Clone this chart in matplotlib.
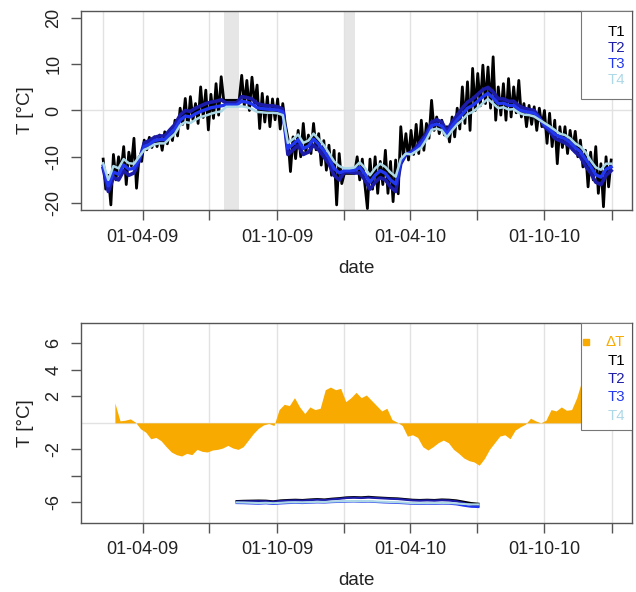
import pandas as pd
import matplotlib
matplotlib.use('Agg')
import matplotlib.pyplot as plt
from matplotlib.patches import Rectangle

plt.rcParams['font.family'] = ['Liberation Sans', 'DejaVu Sans']

# T1 (air), read every half week from 06-02-2009
t1 = [-10.5, -17, -14, -20.4, -9.5, -15, -10, -13, -7.8, -16,
      -9, -12, -6, -16.8, -10, -11, -6.4, -8.5, -5.8, -8.0,
      -5.7, -7.8, -5.3, -8.6, -4.6, -7.2, -4.2, -6.5, -2.1, -5.5,
      0.5, -3.0, 2.6, -3.9, 3.0, -2.0, 1.5, -2.8, 5.1, -1.5,
      4.4, -4.2, 3.5, -1.7, 5.8, -1.0, 7.3, 2.2, 2.2, 2.2,
      2.2, 2.2, 2.2, 2.2, 7.6, 1.0, 6.5, 0.0, 7.2, 1.5,
      5.5, -3.9, 3.7, -2.5, 3.0, -3.5, 2.5, -2.0, 2.5, -4.0,
      1.5, -3.0, -6.0, -13.2, -5.7, -10.4, -4.3, -10.0, -2.8, -9.0,
      -5.3, -9.3, -2.8, -8.5, -5.0, -11.8, -6.5, -12.9, -7.5, -14.0,
      -8.6, -20.4, -9.3, -15.8, -13.6, -13.6, -13.6, -13.6, -13.6, -10.0,
      -15, -10.5, -16, -21.2, -10.5, -17, -10.0, -17.9, -11, -16,
      -8.6, -17.9, -11, -19.7, -10.7, -18, -3.5, -10, -5.0, -10.7,
      -4.3, -9.5, -3.0, -9.3, -2.1, -8.6, -2.8, -6.0, 2.2, -4.3,
      -1.4, -5.0, -2.1, -5.3, -3.5, -6.8, -1.4, -5.7, 0.5, -4.0,
      5.1, -2.8, 6.2, -4.3, 9.1, 0.0, 8.0, 1.0, 9.8, 1.5,
      9.4, 0.5, 11.6, -2.1, 5.1, -1.0, 5.8, -2.1, 6.9, -1.4,
      5.1, -0.5, 6.5, -1.4, 1.5, -3.5, 1.1, -3.0, 0.8, -4.3,
      0.5, -3.5, 0.0, -7.1, -0.6, -7.8, -2.1, -11.5, -3.5, -8.0,
      -3.5, -9.3, -4.3, -8.5, -4.5, -10.0, -6.4, -12.2, -8.6, -16.5,
      -9.0, -15, -7.8, -17.9, -11.5, -20.8, -10.0, -16.5, -10.7]

# T2..T4 (soil), weekly from 06-02-2009
t2 = [-12.5, -17.5, -14.5, -15.0, -13.0, -14.0, -13.5, -11.0, -7.0, -6.5,
      -5.8, -5.5, -5.5, -4.2, -3.0, -1.0, 0.0, -0.2, 0.5, 1.0,
      1.5, 1.8, 2.0, 2.3, 1.6, 1.6, 1.6, 3.0, 2.8, 2.5,
      1.5, 1.2, 1.0, 1.0, 0.8, 0.3, -9.5, -8.5, -7.5, -9.5,
      -9.0, -7.5, -8.5, -10.0, -11.5, -14.0, -15.0, -13.3, -13.3, -13.5,
      -13.5, -15.0, -17.0, -15.5, -14.5, -15.0, -16.5, -17.5, -11.5, -9.5,
      -9.0, -8.0, -6.5, -5.0, -2.5, -2.0, -2.5, -4.5, -2.5, -1.0,
      0.5, 1.8, 2.5, 3.5, 4.5, 5.0, 4.0, 2.5, 2.5, 2.0,
      2.0, 1.0, 0.5, 0.2, 0.0, -1.5, -3.5, -4.5, -6.0, -6.5,
      -7.0, -7.8, -9.0, -10.0, -12.0, -13.5, -15.5, -16.0, -14.0, -13.0]
t3 = [-12.0, -16.3, -13.3, -13.8, -11.8, -12.7, -12.5, -10.5, -7.8, -7.3,
      -6.5, -6.3, -6.3, -5.1, -4.0, -2.1, -1.2, -1.4, -0.7, -0.2,
      0.2, 0.6, 0.8, 1.0, 1.2, 1.2, 1.2, 2.0, 1.8, 1.4,
      0.6, 0.4, 0.3, 0.2, 0.1, -0.3, -8.2, -7.3, -6.3, -8.2,
      -7.7, -6.2, -7.3, -8.7, -10.3, -12.5, -13.5, -13.0, -13.0, -12.9,
      -12.3, -13.7, -15.5, -14.0, -13.0, -13.6, -15.0, -15.9, -11.0, -9.4,
      -9.2, -8.4, -7.2, -5.6, -3.3, -2.9, -3.4, -5.1, -3.4, -2.0,
      -0.8, 0.5, 1.1, 2.0, 3.0, 3.7, 2.7, 1.5, 1.6, 1.1,
      1.1, 0.2, -0.2, -0.4, -0.6, -1.7, -3.1, -4.0, -5.1, -5.7,
      -6.1, -6.9, -8.0, -8.9, -10.5, -12.1, -13.9, -14.4, -12.7, -12.2]
t4 = [-11.4, -15.0, -12.0, -12.5, -10.5, -11.4, -11.5, -10.0, -8.5, -8.0,
      -7.3, -7.1, -7.1, -6.0, -5.0, -3.2, -2.5, -2.7, -2.0, -1.4,
      -1.1, -0.7, -0.4, -0.2, 0.8, 0.8, 0.8, 0.9, 0.7, 0.3,
      -0.3, -0.4, -0.5, -0.5, -0.6, -1.0, -7.0, -6.2, -5.2, -7.0,
      -6.5, -5.0, -6.2, -7.5, -9.2, -11.0, -12.0, -12.5, -12.5, -12.3,
      -11.2, -12.4, -14.0, -12.5, -11.5, -12.2, -13.4, -14.3, -10.5, -9.3,
      -9.5, -8.8, -8.0, -6.3, -4.2, -3.9, -4.3, -5.8, -4.3, -3.0,
      -2.0, -0.8, -0.3, 0.6, 1.6, 2.5, 1.5, 0.5, 0.7, 0.2,
      0.3, -0.5, -0.9, -1.0, -1.3, -2.0, -2.7, -3.4, -4.2, -5.0,
      -5.3, -6.0, -7.1, -7.8, -9.0, -10.8, -12.3, -12.8, -11.5, -11.5]

# Delta T, weekly from 22-02-2009
dT = [1.5, 0.15, 0.2, 0.3, 0.05, -0.45, -0.7, -1.2, -1.1, -1.35,
      -1.8, -2.2, -2.4, -2.5, -2.3, -2.4, -2.0, -2.15, -2.2, -2.05,
      -2.0, -1.9, -1.7, -1.9, -2.0, -1.8, -1.3, -0.8, -0.4, -0.15,
      -0.05, -0.2, 1.0, 1.4, 1.3, 1.9, 1.2, 0.7, 1.2, 1.0,
      1.1, 2.5, 2.7, 2.5, 2.6, 1.6, 1.9, 2.3, 1.9, 2.1,
      1.7, 1.3, 0.9, 1.1, 0.25, 0.05, -0.2, -1.0, -0.9, -1.1,
      -1.8, -2.05, -1.8, -1.5, -1.3, -1.5, -2.0, -2.3, -2.65, -2.85,
      -2.95, -3.2, -2.7, -2.0, -1.5, -1.0, -0.9, -1.2, -0.55, -0.3,
      -0.1, 0.35, 0.15, 0.0, 0.2, 1.0, 0.9, 1.2, 0.95, 1.0,
      1.9, 3.2, 3.6, 3.8]

# lower panel T lines, every 10 days from 07-08-2009
b1 = [-5.90, -5.88, -5.87, -5.86, -5.87, -5.92, -5.85, -5.82, -5.80, -5.82,
      -5.78, -5.75, -5.78, -5.72, -5.68, -5.62, -5.60, -5.62, -5.58, -5.62,
      -5.65, -5.68, -5.70, -5.75, -5.80, -5.82, -5.80, -5.82, -5.78, -5.80,
      -5.85, -5.95, -6.05, -6.10]
b2 = [-5.95, -5.93, -5.92, -5.91, -5.92, -5.96, -5.90, -5.87, -5.85, -5.87,
      -5.83, -5.80, -5.83, -5.77, -5.73, -5.67, -5.65, -5.67, -5.64, -5.67,
      -5.70, -5.73, -5.75, -5.80, -5.85, -5.87, -5.85, -5.87, -5.84, -5.86,
      -5.92, -6.05, -6.18, -6.25]
b3 = [-6.05, -6.06, -6.08, -6.10, -6.07, -6.12, -6.08, -6.05, -6.03, -6.05,
      -6.02, -6.00, -6.01, -5.98, -5.96, -5.94, -5.93, -5.95, -5.94, -5.97,
      -6.00, -6.02, -6.04, -6.07, -6.10, -6.12, -6.10, -6.11, -6.09, -6.10,
      -6.15, -6.25, -6.33, -6.35]
b4 = [-6.00, -6.01, -6.03, -6.05, -6.03, -6.06, -6.03, -6.00, -5.99, -6.00,
      -5.98, -5.96, -5.97, -5.94, -5.92, -5.90, -5.90, -5.91, -5.90, -5.93,
      -5.95, -5.97, -5.99, -6.02, -6.05, -6.07, -6.05, -6.06, -6.04, -6.05,
      -6.08, -6.12, -6.15, -6.15]

gaps = [('2009-07-21', '2009-08-10'), ('2010-01-01', '2010-01-15')]
tick_dates = pd.to_datetime(['2009-04-01', '2009-07-01', '2009-10-01', '2010-01-01',
                             '2010-04-01', '2010-07-01', '2010-10-01', '2011-01-01'])
tick_labels = ['01-04-09', '', '01-10-09', '', '01-04-10', '', '01-10-10', '']

names = ['T1', 'T2', 'T3', 'T4']
colors = ['black', '#1c1ca8', '#2238f0', '#add8e6']
orange = '#f8aa00'
grid_col = '#e2e2e2'
frame_col = '#555555'

dates_half = pd.date_range('2009-02-06', periods=len(t1), freq='84h')
dates_week = pd.date_range('2009-02-06', periods=len(t4), freq='7D')
dates_dT = pd.date_range('2009-02-22', periods=len(dT), freq='7D')
dates_b = pd.date_range('2009-08-07', periods=len(b1), freq='10D')
xlim = (pd.Timestamp('2009-01-06 19:00'), pd.Timestamp('2011-01-28 12:00'))

fig = plt.figure(figsize=(6.36, 5.92), dpi=100)
ax1 = fig.add_axes([0.1274, 0.6453, 0.8664, 0.3361])
ax2 = fig.add_axes([0.1274, 0.1171, 0.8664, 0.3368])


def style_axes(ax, yticks, ylabels, ylim):
    ax.set_xlim(xlim)
    ax.set_ylim(ylim)
    ax.set_xticks(tick_dates)
    ax.set_xticklabels(tick_labels)
    ax.set_yticks(yticks)
    ax.set_yticklabels(ylabels, rotation=90, va='center')
    for d in tick_dates:
        ax.axvline(d, color=grid_col, lw=1, zorder=0)
    ax.axhline(0, color=grid_col, lw=1, zorder=0)
    for s in ax.spines.values():
        s.set_color(frame_col)
        s.set_linewidth(1)
    ax.tick_params(length=7.5, width=1, color=frame_col, labelsize=13,
                   labelcolor='#222222', pad=6)
    ax.set_xlabel('date', fontsize=13.5, color='#222222', labelpad=10)
    ax.set_ylabel('T [°C]', fontsize=13.5, color='#222222', labelpad=8)


def text_legend(ax, labels, cols, y_top, step, box_bottom):
    # R-style legend: white box in the top right corner, coloured labels
    ax.add_patch(Rectangle((0.908, box_bottom), 0.092, 1 - box_bottom,
                           transform=ax.transAxes, facecolor='white',
                           edgecolor='#777777', lw=0.8, zorder=10))
    for i, (lab, c) in enumerate(zip(labels, cols)):
        ax.text(0.9868, y_top - i * step, lab, color=c, fontsize=10.8,
                ha='right', va='center', transform=ax.transAxes, zorder=11)


# top panel
for a, b in gaps:
    ax1.axvspan(pd.Timestamp(a), pd.Timestamp(b), color='#e6e6e6', lw=0, zorder=0)
ax1.axvline(dates_half[0], color=grid_col, lw=1, zorder=0)
ax1.plot(dates_half, t1, color=colors[0], lw=2.0)
ax1.plot(dates_week, t2, color=colors[1], lw=2.6)
ax1.plot(dates_week, t3, color=colors[2], lw=2.4)
ax1.plot(dates_week, t4, color=colors[3], lw=1.8)
style_axes(ax1, [-20, -10, 0, 10, 20], ['-20', '-10', '0', '10', '20'], (-21.5, 21.5))
text_legend(ax1, names, colors, 0.897, 0.082, 0.559)

# bottom panel
ax2.fill_between(dates_dT, 0, dT, color=orange, lw=0)
for vals, c in zip([b1, b2, b3, b4], colors):
    ax2.plot(dates_b, vals, color=c, lw=1.5)
style_axes(ax2, [-6, -4, -2, 2, 4, 6], ['-6', '', '-2', '2', '4', '6'], (-7.53, 7.51))
text_legend(ax2, ['ΔT'] + names, [orange] + colors, 0.904, 0.092, 0.465)
ax2.plot([0.917], [0.908], 's', ms=5, color=orange, transform=ax2.transAxes,
         zorder=11, clip_on=False)

fig.savefig('out.png', dpi=100)
